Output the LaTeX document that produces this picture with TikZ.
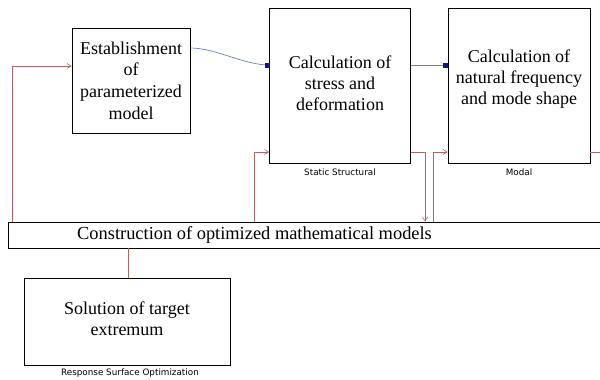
\documentclass[tikz,border=0pt]{standalone}
\usepackage{fontspec}
\setmainfont{Liberation Serif}
\newfontfamily\tagfont{DejaVu Sans}
\usetikzlibrary{arrows.meta}

\definecolor{linkred}{RGB}{170,105,105}
\definecolor{linkblue}{RGB}{110,125,190}
\definecolor{portblue}{RGB}{20,20,140}

\tikzset{
	stagebox/.style={draw,line width=0.9pt,inner sep=0pt},
	stagetext/.style={align=center,font=\fontsize{18}{21}\selectfont,inner sep=0pt},
	tagtext/.style={font=\tagfont\fontsize{8.8}{10}\selectfont,inner sep=0pt},
	feedback/.style={draw=linkred,line width=0.6pt},
	feedarrow/.style={feedback,-{Straight Barb[length=4pt,width=5pt]}},
	datalink/.style={draw=linkblue,line width=0.7pt},
	port/.style={fill=portblue,minimum size=5pt,inner sep=0pt}
}

\begin{document}
\begin{tikzpicture}[x=1pt,y=-1pt]
	\useasboundingbox (0,0) rectangle (600,380);

	% blocks
	\node[stagebox,minimum width=118pt,minimum height=105pt] (model) at (131,80.5) {};
	\node[stagetext,font=\fontsize{18}{21.7}\selectfont] (modeltxt) at (model.center) {Establishment\\of\\parameterized\\model};

	\node[stagebox,minimum width=141pt,minimum height=155pt] (stat) at (340,85.5) {};
	\node[stagetext,anchor=north] (stattxt) at (340,56) {Calculation of\\stress and\\deformation};
	\node[tagtext] (stattag) at (340,172) {Static Structural};

	\node[stagebox,minimum width=142pt,minimum height=155pt] (modal) at (519,85.5) {};
	\node[stagetext,anchor=north] (modaltxt) at (519,50) {Calculation of\\natural frequency\\and mode shape};
	\node[tagtext] (modaltag) at (519,172) {Modal};

	\node[stagebox,minimum width=600pt,minimum height=26pt] (bar) at (308,235) {};
	\node[stagetext,anchor=west,font=\fontsize{18.4}{21}\selectfont] (bartxt) at (77,235) {Construction of optimized mathematical models};

	\node[stagebox,minimum width=206pt,minimum height=87pt] (rso) at (127,321.5) {};
	\node[stagetext] (rsotxt) at (127,319) {Solution of target\\extremum};
	\node[tagtext] (rsotag) at (130,373) {Response Surface Optimization};

	\coordinate (out) at (602,152);

	% data links
	\draw[datalink] (model.east |- 0,48) to[out=0,in=180,looseness=0.8] (stat.west |- 0,65);
	\node[port] (p1) at ([xshift=-2pt]stat.west |- 0,65) {};
	\draw[datalink] (stat.east |- 0,65) -- (modal.west |- 0,65);
	\node[port] (p2) at ([xshift=-2pt]modal.west |- 0,65) {};

	% feedback links
	\draw[feedarrow] (bar.north -| 12,0) |- (model.west |- 0,66);
	\draw[feedarrow] (bar.north -| 254,0) |- (stat.west |- 0,152);
	\draw[feedarrow] (stat.east |- 0,152) -| (bar.north -| 425,0);
	\draw[feedarrow] (bar.north -| 433,0) |- (modal.west |- 0,152);
	\draw[feedback] (modal.east |- 0,152) -- (out);
	\draw[feedback] (rso.north -| 128,0) -- (bar.south -| 128,0);
\end{tikzpicture}
\end{document}
